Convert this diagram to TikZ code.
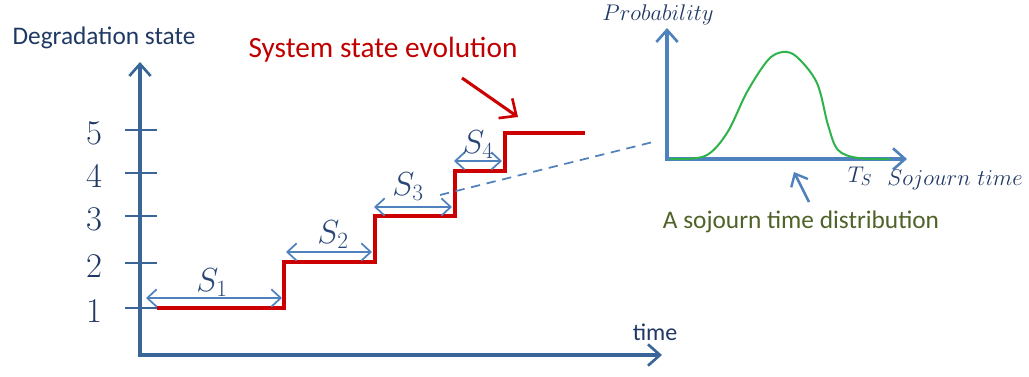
\documentclass[tikz,border=0pt]{standalone}
\usepackage{fix-cm}
\usepackage{fontspec}
\newfontfamily\carl{Carlito}
\usetikzlibrary{arrows.meta}
\definecolor{axisblue}{HTML}{3A6599}
\definecolor{lightblue}{HTML}{4F81BD}
\definecolor{navy}{HTML}{1F3864}
\definecolor{stairred}{HTML}{CC0000}
\definecolor{textred}{HTML}{C00000}
\definecolor{curvegreen}{HTML}{2DB34A}
\definecolor{olivetext}{HTML}{4F6228}
\tikzset{
  mainaxis/.style={draw=axisblue, line width=2.6pt, {Straight Barb[length=9pt,width=16pt,line width=2pt]}-{Straight Barb[length=9pt,width=16pt,line width=2pt]}},
  tick/.style={draw=axisblue, line width=2.2pt},
  ticklabel/.style={text=navy, font=\fontsize{26}{28}\selectfont},
  stair/.style={draw=stairred, line width=2.3pt},
  sarrow/.style={draw=lightblue, line width=1.4pt, {Straight Barb[length=7pt,width=13pt,line width=1.3pt]}-{Straight Barb[length=7pt,width=13pt,line width=1.3pt]}},
  slabel/.style={text=navy!80!lightblue, font=\fontsize{25}{27}\selectfont},
  redarrow/.style={draw=stairred, line width=2.3pt, -{Straight Barb[length=10pt,width=18pt,line width=2pt]}},
  rightaxis/.style={draw=lightblue, line width=2.6pt, {Straight Barb[length=9pt,width=16pt,line width=2pt]}-{Straight Barb[length=9pt,width=16pt,line width=2pt]}},
  curve/.style={draw=curvegreen, line width=1.5pt},
  smallarrow/.style={draw=lightblue, line width=2pt, -{Straight Barb[length=8pt,width=14pt,line width=1.8pt]}},
  sanslabel/.style={font=\carl\fontsize{19}{22}\selectfont},
  mathlabel/.style={text=navy, font=\fontsize{17}{20}\selectfont},
}
\begin{document}
\begin{tikzpicture}[x=0.75pt,y=-0.75pt]
\useasboundingbox (0,0) rectangle (1029,376);
% main axes
\coordinate (ytop) at (140,62);
\coordinate (O) at (140,355);
\coordinate (xend) at (662,355);
\draw[mainaxis] (ytop) |- (xend);
\node[sanslabel, text=navy] (ylab) at (104,38) {Degradation state};
\node[sanslabel, text=navy, font=\carl\fontsize{18}{20}\selectfont] (xlab) at (655,332) {time};
% ticks and labels
\foreach \n/\y in {1/308,2/263,3/216,4/173,5/130}{
  \coordinate (ta\n) at (125,\y);
  \coordinate (tb\n) at (157,\y);
  \draw[tick] (ta\n) -- (tb\n);
  \node[ticklabel] (l\n) at (94,\y+3) {$\n$};
}
% staircase
\coordinate (s0) at (157,308);
\coordinate (s1) at (284,308);
\coordinate (s2) at (284,262);
\coordinate (s3) at (375,262);
\coordinate (s4) at (375,216);
\coordinate (s5) at (455,216);
\coordinate (s6) at (455,171);
\coordinate (s7) at (505,171);
\coordinate (s8) at (505,133);
\coordinate (s9) at (585,133);
\draw[stair] (s0) -- (s1) -- (s2) -- (s3) -- (s4) -- (s5) -- (s6) -- (s7) -- (s8) -- (s9);
% sojourn arrows
\coordinate (a1l) at (146,298); \coordinate (a1r) at (282,298);
\coordinate (a2l) at (286,252); \coordinate (a2r) at (372,252);
\coordinate (a3l) at (374,207); \coordinate (a3r) at (452,207);
\coordinate (a4l) at (454,161); \coordinate (a4r) at (502,161);
\draw[sarrow] (a1l) -- (a1r);
\draw[sarrow] (a2l) -- (a2r);
\draw[sarrow] (a3l) -- (a3r);
\draw[sarrow] (a4l) -- (a4r);
\node[slabel] (S1) at (212,283) {$S_1$};
\node[slabel] (S2) at (333,235) {$S_2$};
\node[slabel] (S3) at (408,187) {$S_3$};
\node[slabel] (S4) at (478,145) {$S_4$};
% system state evolution
\node[sanslabel, text=textred, font=\carl\fontsize{22}{24}\selectfont] (sse) at (383,50) {System state evolution};
\coordinate (ra1) at (462,78);
\coordinate (ra2) at (518,117);
\draw[redarrow] (ra1) -- (ra2);
% dashed link
\coordinate (d1) at (440,195);
\coordinate (d2) at (653,142);
\draw[draw=lightblue, line width=1.3pt, dash pattern=on 7pt off 5pt] (d1) -- (d2);
% right axes
\coordinate (rtop) at (667,28);
\coordinate (rO) at (667,159);
\coordinate (rend) at (907,159);
\draw[rightaxis] (rtop) |- (rend);
\draw[curve] plot[smooth, tension=0.55] coordinates {(670,159) (705,156) (727,133) (747,92) (768,60) (783,52) (797,57) (817,83) (828,125) (838,150) (858,158) (890,159)};
\node[mathlabel] (prob) at (658,15) {$Probability$};
\node[mathlabel] (ts) at (860,176) {$T_S$};
\node[mathlabel] (soj) at (955,180) {$Sojourn\ time$};
\coordinate (sa1) at (809,202);
\coordinate (sa2) at (794,172);
\draw[smallarrow] (sa1) -- (sa2);
\node[sanslabel, text=olivetext] (dist) at (801,222) {A sojourn time distribution};
\end{tikzpicture}
\end{document}
